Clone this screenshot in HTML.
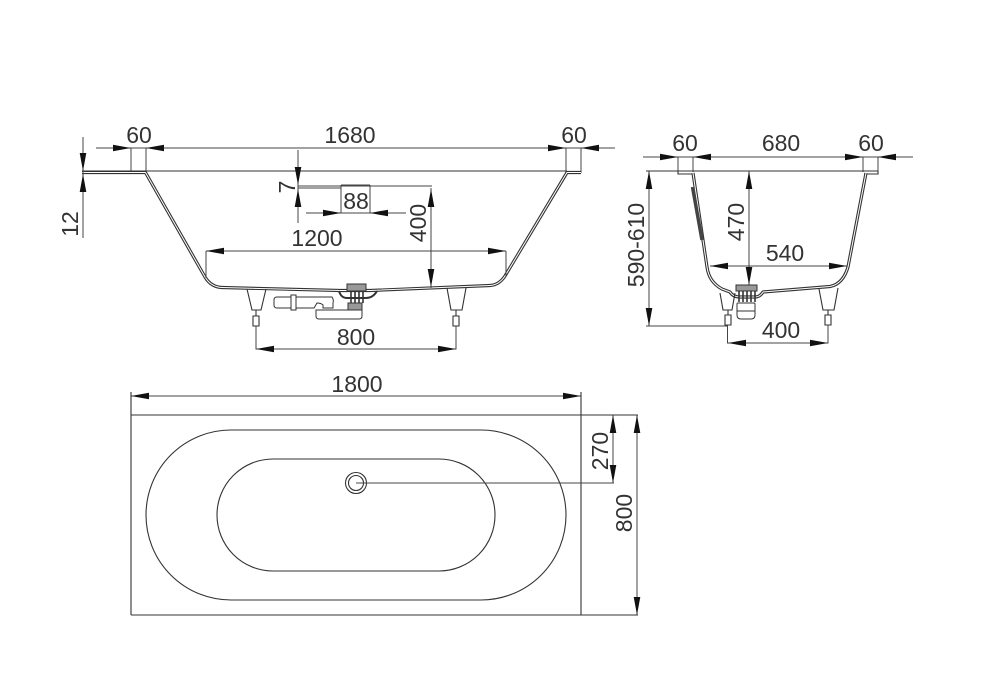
<!DOCTYPE html>
<html>
<head>
<meta charset="utf-8">
<style>
html,body{margin:0;padding:0;background:#fff;width:1000px;height:692px;overflow:hidden}
svg{display:block}
text{font-family:"Liberation Sans",sans-serif;font-size:23px;fill:#333;text-anchor:middle}
.d{stroke:#444;stroke-width:1;fill:none}
.o{stroke:#333;stroke-width:1.1;fill:none}
.t{stroke:#333;stroke-width:3.2;fill:none;stroke-linejoin:round}
.w{stroke:#fff;stroke-width:1;fill:none;stroke-linejoin:round}
polygon{fill:#111;stroke:none}
</style>
</head>
<body>
<svg width="1000" height="692" viewBox="0 0 1000 692" xmlns="http://www.w3.org/2000/svg">
<!-- FRONT VIEW -->
<path class="d" d="M96 148H615M131 148V173M146 148V173M566 148V172M581 148V173"/>
<polygon points="131,148 113,144.7 113,151.3"/><polygon points="146,148 164,144.7 164,151.3"/>
<polygon points="566,148 548,144.7 548,151.3"/><polygon points="581,148 599,144.7 599,151.3"/>
<path class="o" d="M82 171H567"/>
<path class="t" d="M82 172.5H145.5L205 277Q211 287 222 287.5L340 290.5H370L490 285.5Q499 285 505 276L567 172.5H581"/>
<path class="w" d="M82 172.5H145.5L205 277Q211 287 222 287.5L340 290.5H370L490 285.5Q499 285 505 276L567 172.5H581"/>
<path class="d" d="M83 137V238"/>
<polygon points="83,171 79.7,153 86.3,153"/><polygon points="83,174 79.7,192 86.3,192"/>
<text transform="translate(78,224) rotate(-90)">12</text>
<path class="d" d="M298 150V223M298 186H432M298 188H341M341 185H370M341 185V213M370 185V213M306 213H406"/>
<polygon points="298,185 294.7,167 301.3,167"/><polygon points="298,189 294.7,207 301.3,207"/>
<polygon points="341,213 323,209.7 323,216.3"/><polygon points="370,213 388,209.7 388,216.3"/>
<text transform="translate(295,187) rotate(-90)">7</text>
<text x="356" y="209">88</text>
<path class="d" d="M431 188V288"/>
<polygon points="431,189 427.7,207 434.3,207"/><polygon points="431,287 427.7,269 434.3,269"/>
<text transform="translate(426,223) rotate(-90)">400</text>
<path class="d" d="M206 251H506M206 251V278M506 251V276"/>
<polygon points="206,251 224,247.7 224,254.3"/><polygon points="506,251 488,247.7 488,254.3"/>
<path class="d" d="M256 326V349H456V326"/>
<polygon points="256,349 274,345.7 274,352.3"/><polygon points="456,349 438,345.7 438,352.3"/>
<!-- legs front -->
<path class="o" d="M247 289L252 310H261L266 289M256 310V316M253 316H259V326H253Z"/>
<path class="o" d="M447 288L451 310H462L466 288M456 310V316M453 316H459V326H453Z"/>
<!-- drain front -->
<g fill="none" stroke="#333" stroke-width="1">
<path d="M347 284H366V291H347Z" fill="#999"/>
<path d="M339 291Q341 298 347 298H366Q373 298 377 291" stroke-width="2"/>
<path d="M351 291V303M355 291V303M359 291V303M363 291V303" stroke-width="1.6"/>
<path d="M348 303H362V310H348Z" fill="#999"/>
<path d="M291 297H332Q334 300 333 303V308H323V305Q321 303 317 303L314 308H296"/>
<path d="M277 297H291V308H277Q274 308 274 305V300Q274 297 277 297Z"/>
<path d="M291 295H296V310H291Z" fill="#fff"/>
<path d="M316 310H362V316Q362 319 359 319H319Q316 319 316 316Z"/>
</g>
<text x="139" y="143">60</text>
<text x="350" y="143">1680</text>
<text x="574" y="143">60</text>
<text x="317" y="246">1200</text>
<text x="356" y="345">800</text>
<!-- SIDE VIEW -->
<path class="d" d="M643 157H913M678 157V173M693 157V172M863 157V172M878 157V172"/>
<polygon points="678,157 660,153.7 660,160.3"/><polygon points="693,157 711,153.7 711,160.3"/>
<polygon points="863,157 845,153.7 845,160.3"/><polygon points="878,157 896,153.7 896,160.3"/>
<path class="o" d="M646 171H878"/>
<path class="o" d="M678 171V174H692M864 174H878V171"/>
<path class="t" d="M693 173L707 267Q709 282 722 289L730 292Q733 297 740 297H755Q760 297 763 292L830 286.5Q843 284 848 267L866 173"/>
<path class="w" d="M693 173L707 267Q709 282 722 289L730 292Q733 297 740 297H755Q760 297 763 292L830 286.5Q843 284 848 267L866 173"/>
<path d="M692.5 187L702 240" stroke="#444" stroke-width="3.5" fill="none"/>
<path class="d" d="M649 171V326M646 326H727"/>
<polygon points="649,171 645.7,189 652.3,189"/><polygon points="649,326 645.7,308 652.3,308"/>
<text transform="translate(644,245) rotate(-90)">590-610</text>
<path class="d" d="M749 171V285"/>
<polygon points="749,171 745.7,189 752.3,189"/><polygon points="749,285 745.7,267 752.3,267"/>
<text transform="translate(744,222) rotate(-90)">470</text>
<path class="d" d="M710 266H847"/>
<polygon points="710,266 728,262.7 728,269.3"/><polygon points="847,266 829,262.7 829,269.3"/>
<path class="d" d="M727.500 325V343H828V325"/>
<polygon points="728,343 746,339.7 746,346.3"/><polygon points="828,343 810,339.7 810,346.3"/>
<!-- legs side -->
<path class="o" d="M720 293L723 310H732L735 293M728 310V315M725 315H731V325H725Z"/>
<path class="o" d="M819 289L823 310H834L838 288M828 310V315M825 315H831V325H825Z"/>
<!-- drain side -->
<g fill="none" stroke="#333" stroke-width="1">
<path d="M736 285H757V291H736Z" fill="#999"/>
<path d="M739 291V302M743 291V302M747 291V302M751 291V302M755 291V302" stroke-width="1.6"/>
<path d="M738 303H754"/>
<path d="M737 304V315Q737 319 741 319H751Q755 319 755 315V304Q755 303 754 303H738Q737 303 737 304ZM737 311H755"/>
</g>
<text x="685" y="151">60</text>
<text x="781" y="151">680</text>
<text x="871" y="151">60</text>
<text x="785" y="261">540</text>
<text x="781" y="338">400</text>
<!-- PLAN VIEW -->
<path class="o" d="M131 415H638M131 615H638M131 392V615M581 392V615"/>
<path class="d" d="M131 396H581"/>
<polygon points="131,396 149,392.7 149,399.3"/><polygon points="581,396 563,392.7 563,399.3"/>
<text x="357" y="392">1800</text>
<rect class="o" x="146" y="430" width="420" height="170" rx="85" ry="85"/>
<rect class="o" x="217" y="459" width="278" height="112" rx="56" ry="56"/>
<circle class="o" cx="356" cy="483" r="10.500"/>
<circle class="o" cx="356" cy="483" r="7.500"/>
<path class="d" d="M356 483H614M613 415V483M637 415V615"/>
<polygon points="613,415 609.7,433 616.3,433"/><polygon points="613,483 609.7,465 616.3,465"/>
<polygon points="637,415 633.7,433 640.3,433"/><polygon points="637,615 633.7,597 640.3,597"/>
<text transform="translate(608,451) rotate(-90)">270</text>
<text transform="translate(632,513) rotate(-90)">800</text>
</svg>
</body>
</html>
